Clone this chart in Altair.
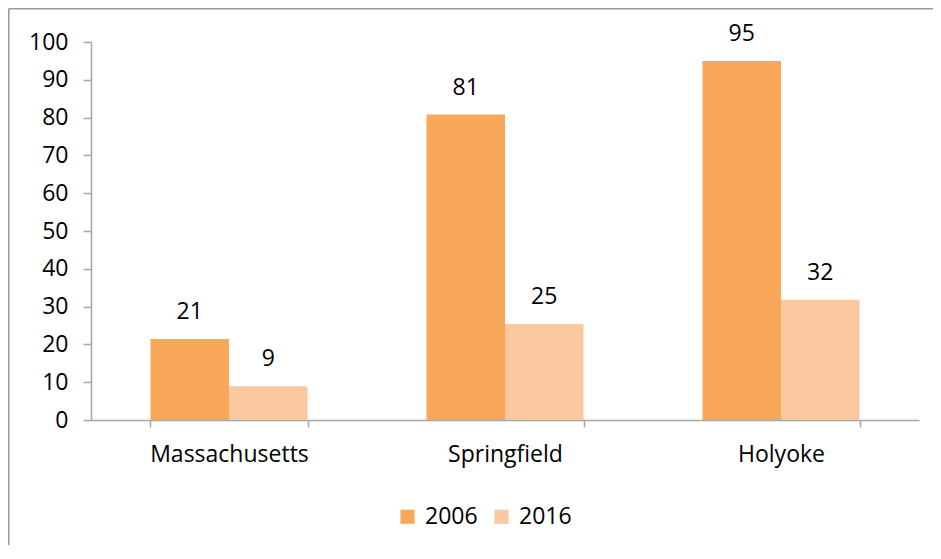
import altair as alt
import pandas as pd

regions = ["Massachusetts", "Springfield", "Holyoke"]
years = ["2006", "2016"]
values_2006 = [21.4, 80.8, 95.0]
values_2016 = [8.9, 25.4, 31.8]
y_ticks = [0, 10, 20, 30, 40, 50, 60, 70, 80, 90, 100]

rows = []
for i, r in enumerate(regions):
    rows.append({"region": r, "year": "2006", "value": values_2006[i]})
    rows.append({"region": r, "year": "2016", "value": values_2016[i]})
df = pd.DataFrame(rows)

W, H = 828, 378
PL, PT, PR, PB = 83, 34, 14, 125
FONT = "Open Sans"
FS = 23
GRAY = "#a6a6a6"

base = alt.Chart(df).encode(
    x=alt.X("region:N", sort=regions,
            scale=alt.Scale(paddingInner=0.431, paddingOuter=0.2155),
            axis=alt.Axis(title=None, labelAngle=0, tickBand="extent",
                          tickSize=7, tickColor=GRAY, domainColor=GRAY,
                          domainWidth=1.5, tickWidth=1.5,
                          labelFont=FONT, labelFontSize=FS, labelColor="#000",
                          labelPadding=16)),
    xOffset=alt.XOffset("year:N", sort=years,
                        scale=alt.Scale(paddingInner=0, paddingOuter=0)),
    y=alt.Y("value:Q", scale=alt.Scale(domain=[0, 100], nice=False),
            axis=alt.Axis(title=None, values=y_ticks, grid=False, labelOverlap=False,
                          tickSize=8, tickColor=GRAY, domainColor=GRAY,
                          domainWidth=1.5, tickWidth=1.5,
                          labelFont=FONT, labelFontSize=FS, labelColor="#000",
                          labelPadding=15)),
)

bars = base.mark_bar().encode(
    color=alt.Color("year:N", sort=years,
                    scale=alt.Scale(domain=years, range=["#F9A85A", "#FBC9A0"]),
                    legend=alt.Legend(title=None, orient="none", direction="horizontal",
                                      legendX=305, legendY=463,
                                      symbolType="square", symbolSize=200,
                                      symbolStrokeWidth=0, symbolOpacity=1,
                                      labelFont=FONT, labelFontSize=FS, labelColor="#000",
                                      labelOffset=6, columnPadding=12)),
)

labels = base.mark_text(font=FONT, fontSize=FS, color="#000",
                        baseline="middle", dy=-27).encode(
    text=alt.Text("value:Q", format=".0f"),
)

frame_df = pd.DataFrame({"a": [0]})
frame_left = alt.Chart(frame_df).mark_rule(color="#9a9a9a", strokeWidth=1.5).encode(
    x=alt.value(-PL + 0.75), y=alt.value(-PT + 0.75), y2=alt.value(H + PB))
frame_top = alt.Chart(frame_df).mark_rule(color="#9a9a9a", strokeWidth=1.5).encode(
    x=alt.value(-PL + 0.75), x2=alt.value(W + PR), y=alt.value(-PT + 0.75))

chart = alt.layer(bars, labels, frame_left, frame_top).properties(
    width=W, height=H,
    padding={"left": PL, "top": PT, "right": PR, "bottom": PB},
    autosize=alt.AutoSizeParams(type="none"),
    background="white",
).configure_view(strokeWidth=0, stroke="transparent")

chart.save("out.html", embed_options={"renderer": "svg", "actions": False})
